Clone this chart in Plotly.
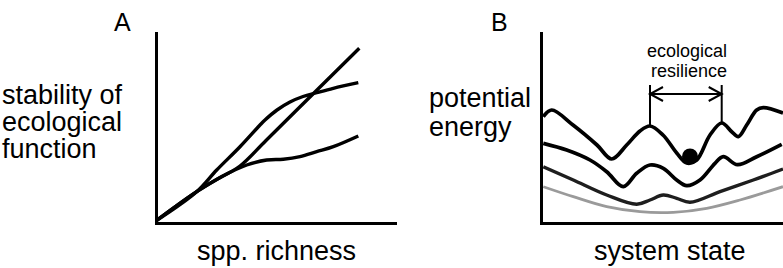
import plotly.graph_objects as go

W, H = 783, 268

# ---------------- Panel A: stability of ecological function vs spp. richness
a_line_x = [0.5, 40.7, 66, 84, 110, 160, 203.3]
a_line_y = [3, 31.8, 47, 57.5, 83, 132.5, 175.2]

a_upper_x = [0.5, 40.7, 60.7, 84, 104, 109, 121, 134, 147, 160.7, 177.3, 202.3]
a_upper_y = [3, 31.8, 53.5, 76.8, 98.5, 103.5, 113.5, 121.5, 127, 130.8, 135.2, 140.8]

a_lower_x = [0.5, 40.7, 66, 90.7, 110.7, 127.3, 144, 160.7, 177.3, 202.3]
a_lower_y = [3, 31.8, 47, 58.5, 63.5, 64.2, 66.8, 71.8, 76.8, 87.5]

# ---------------- Panel B: potential energy landscapes vs system state
b1_x = [1.8, 10.2, 31.5, 55.5, 70.2, 85.2, 98.5, 108.5, 121.5, 135.2, 145.2, 155.2,
        168.5, 180.2, 190.2, 196.8, 205.2, 215.2, 221.8, 241.5]
b1_y = [106.8, 113.5, 98.5, 78.5, 64.5, 78.5, 92.5, 97.5, 88.5, 70.5, 60.5, 63.5,
        88.5, 100.5, 91.8, 86.8, 98.5, 113.5, 115.8, 110.5]

b2_x = [1.8, 25.2, 48.5, 65.2, 81.8, 95.2, 108.5, 121.8, 135.2, 145.2, 158.5, 173.5,
        181.8, 196, 215.2, 240.2]
b2_y = [80.2, 73.5, 63.5, 51.8, 36.8, 50.2, 58.5, 55.2, 43.5, 37.8, 43.5, 60.2,
        66.8, 58.8, 66.8, 79.2]

b3_x = [1.8, 31.8, 65.2, 95.2, 108.5, 121.8, 135.2, 148.5, 178.5, 211.8, 241.5]
b3_y = [56.8, 43.5, 28.5, 19.2, 23.5, 28.5, 25.2, 21.2, 31.8, 43.5, 54.5]

b4_x = [1.8, 31.8, 65.2, 98.5, 131.8, 165.2, 198.5, 241.5]
b4_y = [36.8, 26.8, 16.8, 11.8, 11.2, 15.2, 23.5, 36.8]

ball_x = [148.5]
ball_y = [67]

# ecological resilience interval (between the two peaks of the top landscape)
res_left_x, res_left_peak = 108.5, 97.5
res_right_x, res_right_peak = 180.2, 100.5
res_arrow_y = 129.5
res_tick_top = 138.5

FONT = "Liberation Sans, Arial, Helvetica, sans-serif"

fig = go.Figure()

def add(xs, ys, xa, ya, color="black", width=3.4):
    fig.add_trace(go.Scatter(x=xs, y=ys, mode="lines", xaxis=xa, yaxis=ya,
                             line=dict(color=color, width=width, shape="spline", smoothing=1.0),
                             hoverinfo="skip", showlegend=False))

add(a_lower_x, a_lower_y, "x", "y")
add(a_upper_x, a_upper_y, "x", "y")
add(a_line_x, a_line_y, "x", "y")

add(b4_x, b4_y, "x2", "y2", color="#9a9a9a", width=2.8)
add(b3_x, b3_y, "x2", "y2", color="#1e1e1e", width=3.4)
add(b2_x, b2_y, "x2", "y2", width=3.7)
add(b1_x, b1_y, "x2", "y2", width=3.7)

fig.add_trace(go.Scatter(x=ball_x, y=ball_y, mode="markers", xaxis="x2", yaxis="y2",
                         marker=dict(color="black", size=16, line=dict(width=0)),
                         hoverinfo="skip", showlegend=False, cliponaxis=False))

# resilience bracket
shapes = []
lw = 2
for xv, pk in [(res_left_x, res_left_peak), (res_right_x, res_right_peak)]:
    shapes.append(dict(type="line", xref="x2", yref="y2", x0=xv, x1=xv, y0=pk, y1=res_tick_top,
                       line=dict(color="black", width=lw)))
shapes.append(dict(type="line", xref="x2", yref="y2", x0=res_left_x, x1=res_right_x,
                   y0=res_arrow_y, y1=res_arrow_y, line=dict(color="black", width=lw)))
hx, hy = 13, 7
shapes.append(dict(type="path", xref="x2", yref="y2",
                   path=f"M {res_left_x+hx},{res_arrow_y+hy} L {res_left_x},{res_arrow_y} L {res_left_x+hx},{res_arrow_y-hy}",
                   line=dict(color="black", width=lw)))
shapes.append(dict(type="path", xref="x2", yref="y2",
                   path=f"M {res_right_x-hx},{res_arrow_y+hy} L {res_right_x},{res_arrow_y} L {res_right_x-hx},{res_arrow_y-hy}",
                   line=dict(color="black", width=lw)))

def px(x):
    return x / W

def py(y):
    return 1 - y / H

ann = []
def label(text, x, y, size, xanchor="left"):
    ann.append(dict(text=text, x=px(x), y=py(y), xref="paper", yref="paper",
                    xanchor=xanchor, yanchor="middle", showarrow=False, borderpad=0,
                    font=dict(family=FONT, size=size, color="black")))

label("A", 122, 22, 25, "center")
label("B", 499, 22, 25, "center")
label("stability of", 1, 95, 27)
label("ecological", 1, 122, 27)
label("function", 1, 149, 27)
label("potential", 428, 98, 27)
label("energy", 428, 127, 27)
label("spp. richness", 276.5, 251, 27, "center")
label("system state", 670, 251, 27, "center")
label("ecological", 687, 51, 18, "center")
label("resilience", 689, 71, 18, "center")

ax_common = dict(showline=True, linewidth=3, linecolor="black", showgrid=False,
                 zeroline=False, showticklabels=False, ticks="", fixedrange=True)

fig.update_layout(
    width=W, height=H,
    margin=dict(l=0, r=0, t=0, b=0),
    paper_bgcolor="white", plot_bgcolor="white",
    xaxis=dict(domain=[157.5 / W, 397 / W], range=[1.5, 241], anchor="y", **ax_common),
    yaxis=dict(domain=[1 - 222 / H, 1 - 32 / H], range=[1.5, 191.5], anchor="x", **ax_common),
    xaxis2=dict(domain=[543 / W, 1.0], range=[1.5, 241.5], anchor="y2", **ax_common),
    yaxis2=dict(domain=[1 - 222 / H, 1 - 32 / H], range=[1.5, 191.5], anchor="x2", **ax_common),
    shapes=shapes,
    annotations=ann,
    showlegend=False,
)

fig.write_html(
    "out.html",
    config={"displayModeBar": False, "staticPlot": True},
    post_script="document.body.style.margin='0';document.body.style.overflow='hidden';",
)
